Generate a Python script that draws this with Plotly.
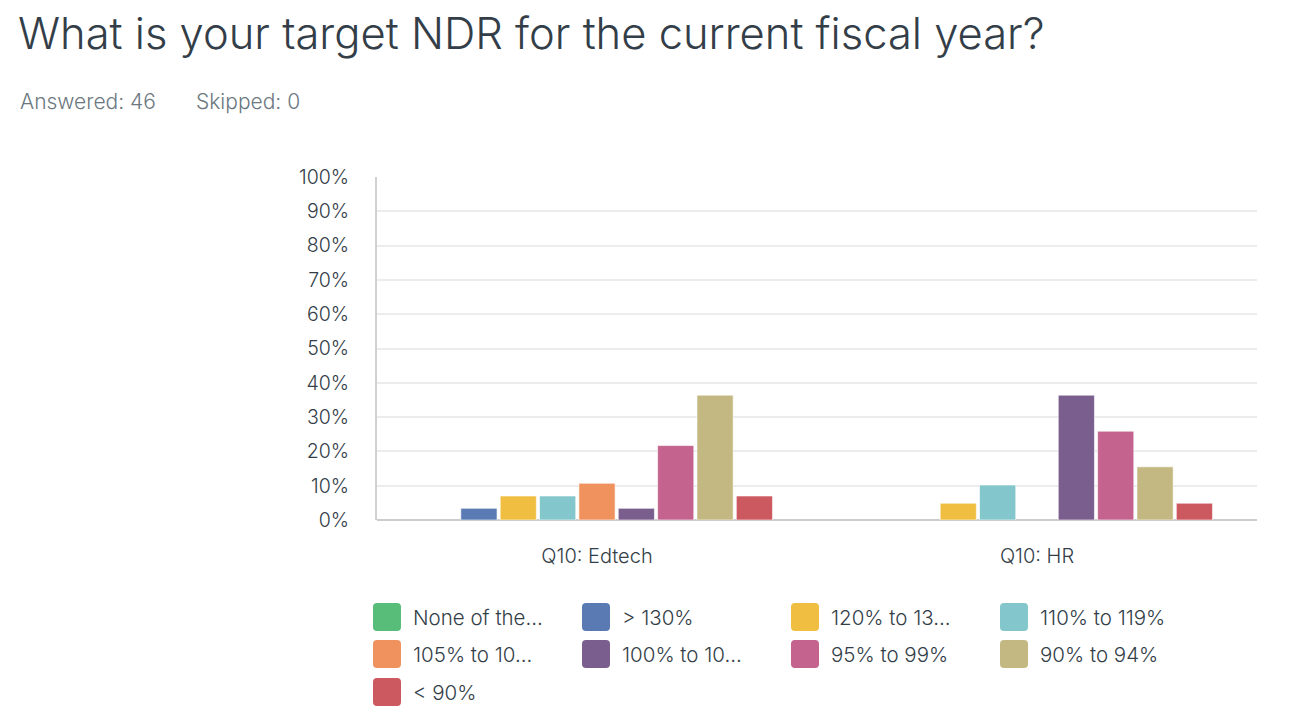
import plotly.graph_objects as go

categories = ["Q10: Edtech", "Q10: HR"]
series_names = ["None of the...", "> 130%", "120% to 13...", "110% to 119%",
                "105% to 10...", "100% to 10...", "95% to 99%", "90% to 94%", "< 90%"]
edtech_values = [0, 3.4, 7.0, 7.0, 10.7, 3.4, 21.7, 36.4, 7.0]
hr_values = [0, 0, 4.9, 10.2, 0, 36.4, 25.9, 15.5, 4.9]
colors = ["#57bd78", "#5a7ab3", "#f0bf42", "#83c6cb", "#f0925e",
          "#7a5f8e", "#c4648e", "#c3b881", "#cc5860"]
y_ticks = list(range(0, 101, 10))
y_tick_labels = [f"{t}%" for t in y_ticks]

W, H = 1314, 722
OFF = 8  # page body margin
L = 377 - OFF
T = 177 - OFF
R = W - (1257 - OFF)
B = H - (520 - OFF)
pw, ph = W - L - R, H - T - B

FONT = "Inter"
TXT = "#333e48"

fig = go.Figure()
for i, name in enumerate(series_names):
    vals = [edtech_values[i], hr_values[i]]
    fig.add_trace(go.Bar(
        x=categories, y=vals, name=name,
        marker=dict(color=colors[i],
                    line=dict(color="rgba(255,255,255,0.6)",
                              width=[1 if v > 0 else 0 for v in vals])),
        showlegend=False, hovertemplate="%{x}<br>" + name + ": %{y:.1f}%<extra></extra>",
    ))

def px_x(p):
    return (p - OFF - L) / pw

def px_y(p):
    return (H - B - (p - OFF)) / ph

shapes = []
annotations = []
col_x = [373, 582, 791, 1000]
row_y = [617, 654, 692]
sw = 28
rad = 4
for i, name in enumerate(series_names):
    cx = col_x[i % 4]
    cy = row_y[i // 4]
    x0, x1 = cx, cx + sw
    y0, y1 = cy - sw / 2, cy + sw / 2
    pts = (f"M {px_x(x0 + rad)},{px_y(y0)} L {px_x(x1 - rad)},{px_y(y0)} "
           f"Q {px_x(x1)},{px_y(y0)} {px_x(x1)},{px_y(y0 + rad)} "
           f"L {px_x(x1)},{px_y(y1 - rad)} Q {px_x(x1)},{px_y(y1)} {px_x(x1 - rad)},{px_y(y1)} "
           f"L {px_x(x0 + rad)},{px_y(y1)} Q {px_x(x0)},{px_y(y1)} {px_x(x0)},{px_y(y1 - rad)} "
           f"L {px_x(x0)},{px_y(y0 + rad)} Q {px_x(x0)},{px_y(y0)} {px_x(x0 + rad)},{px_y(y0)} Z")
    shapes.append(dict(type="path", xref="paper", yref="paper", path=pts,
                       fillcolor=colors[i], line=dict(width=0)))
    annotations.append(dict(xref="paper", yref="paper", x=px_x(cx + sw + 10), y=px_y(cy),
                            xanchor="left", yanchor="middle", showarrow=False, text=name,
                            font=dict(family=FONT, size=20.5, color=TXT, weight=300)))

annotations.append(dict(xref="paper", yref="paper", x=px_x(18), y=px_y(102),
                        xanchor="left", yanchor="middle", showarrow=False,
                        text="Answered: 46",
                        font=dict(family=FONT, size=21, color="#6b7880", weight=300)))
annotations.append(dict(xref="paper", yref="paper", x=px_x(194), y=px_y(102),
                        xanchor="left", yanchor="middle", showarrow=False,
                        text="Skipped: 0",
                        font=dict(family=FONT, size=21, color="#6b7880", weight=300)))

fig.update_layout(
    width=W, height=H,
    margin=dict(l=L, r=R, t=T, b=B, pad=0),
    paper_bgcolor="white", plot_bgcolor="white",
    title=dict(text="What is your target NDR for the current fiscal year?",
               xref="container", yref="container", x=(18 - OFF) / W, y=1 - (34 - OFF) / H,
               xanchor="left", yanchor="middle",
               font=dict(family=FONT, size=43.5, color=TXT, weight=300)),
    barmode="group", bargap=0.195, bargroupgap=0.08,
    xaxis=dict(showgrid=False, showline=False, ticks="", zeroline=False,
               tickfont=dict(family=FONT, size=20, color=TXT, weight=300), ticklabelstandoff=22),
    yaxis=dict(range=[0, 100], tickvals=y_ticks, ticktext=y_tick_labels,
               showgrid=True, gridcolor="#ececec", gridwidth=2,
               showline=True, linecolor="#d0d0d0", linewidth=2,
               zeroline=True, zerolinecolor="#cccccc", zerolinewidth=2,
               ticks="", ticklabelstandoff=22,
               tickfont=dict(family=FONT, size=19.5, color=TXT, weight=300)),
    shapes=shapes, annotations=annotations,
    showlegend=False,
)

fig.write_html("out.html")
